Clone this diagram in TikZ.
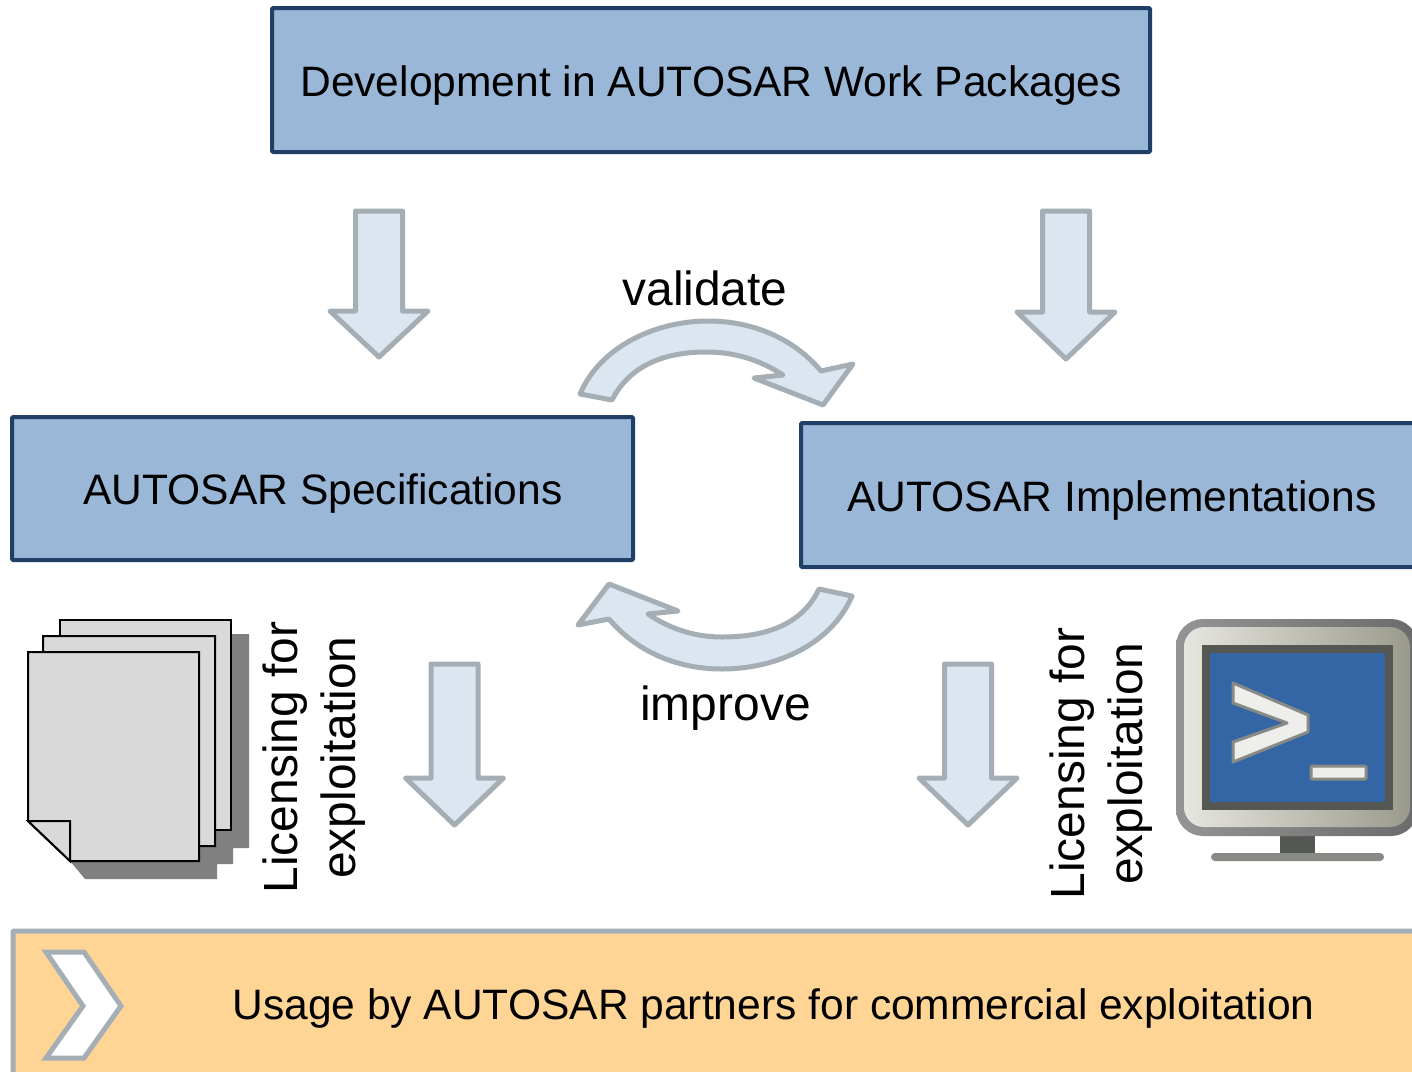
\documentclass[tikz,border=0pt]{standalone}
\usepackage{fontspec}
\setmainfont{Liberation Sans}
\definecolor{boxfill}{HTML}{9BB7D7}
\definecolor{boxline}{HTML}{1F3F66}
\definecolor{arrowfill}{HTML}{DCE6F1}
\definecolor{arrowline}{HTML}{A5AEB5}
\definecolor{barfill}{HTML}{FFD595}
\definecolor{screenblue}{HTML}{3465A4}
\definecolor{screendark}{HTML}{555753}
\definecolor{promptline}{HTML}{888A85}
\definecolor{promptfill}{HTML}{EEEEEC}
\definecolor{bezellight}{HTML}{E6E6E0}
\definecolor{bezeldark}{HTML}{9A9A8C}
\tikzset{
  bluebox/.style={draw=boxline,fill=boxfill,line width=4pt,rounded corners=1pt,line join=round},
  blockarrow/.style={draw=arrowline,fill=arrowfill,line width=5pt,line join=round},
  boxtext/.style={inner sep=0pt,text=black,font=\fontsize{42.55}{50}\selectfont},
  bigtext/.style={inner sep=0pt,text=black,font=\fontsize{47.9}{60}\selectfont},
  sheet/.style={draw=black,fill=black!15,line width=2pt,line join=miter},
}
\newcommand{\downarrowshape}[4]{% centre x, top, shoulder, tip
  \draw[blockarrow] (#1-23.5,#2) -- (#1+23.5,#2) -- (#1+23.5,#3) -- (#1+49,#3) -- (#1,#4) -- (#1-49,#3) -- (#1-23.5,#3) -- cycle;}
\begin{document}
\begin{tikzpicture}[x=1pt,y=-1pt]
\useasboundingbox (0,0) rectangle (1412,1071);
\clip (0,0) rectangle (1412,1071);
\fill[white] (0,0) rectangle (1412,1071);

% blue boxes
\draw[bluebox] (272,8) rectangle (1150,152);
\node[boxtext] (work) at (711,85) {Development in AUTOSAR Work Packages};
\draw[bluebox] (12,417) rectangle (633,560);
\node[boxtext] (spec) at (323,493) {AUTOSAR Specifications};
\draw[bluebox] (801,423) rectangle (1425,567);
\node[boxtext] (impl) at (1112,500) {AUTOSAR Implementations};

% straight block arrows
\downarrowshape{379}{211}{311}{357}
\downarrowshape{1066}{211}{312}{359}
\downarrowshape{454.5}{664}{778}{825}
\downarrowshape{968}{664}{778}{825}

% curved arrows
\draw[blockarrow] (580,394) .. controls (600,347) and (655,321) .. (708,321)
  .. controls (755,321) and (795,340) .. (821,371) -- (853,364) -- (823,405) -- (754,378) -- (783,375)
  .. controls (760,360) and (735,352) .. (706,352)
  .. controls (665,352) and (630,365) .. (612,400) -- cycle;
\draw[blockarrow] (852,596) .. controls (832,643) and (778,669) .. (722,669)
  .. controls (675,669) and (635,650) .. (609,619) -- (578,625) -- (609,584) -- (678,611) -- (648,614)
  .. controls (670,629) and (695,637) .. (722,637)
  .. controls (765,637) and (802,625) .. (819,589) -- cycle;
\node[bigtext] (validate) at (705,288) {validate};
\node[bigtext] (improve) at (725.5,708) {improve};

% documents
\fill[black!50] (70,861) -- (85,879) -- (217,879) -- (217,864) -- (233,864) -- (233,848) -- (249,848) -- (249,634) -- (231,634) -- (231,800) -- cycle;
\draw[sheet] (60,620) rectangle (231,830);
\draw[sheet] (43,636) -- (215,636) -- (215,846) -- (70,846) -- (43,821) -- cycle;
\draw[sheet] (28,652) -- (199,652) -- (199,861) -- (70,861) -- (28,821) -- cycle;
\draw[sheet] (28,821) -- (70,821) -- (70,861) -- cycle;

% licensing labels
\node[bigtext,rotate=90,align=center] (licl) at (314.5,757.5) {Licensing for\\[-2pt]exploitation};
\node[bigtext,rotate=90,align=center] (licr) at (1101.5,763.5) {Licensing for\\[-2pt]exploitation};

% monitor
\fill[screendark] (1280,830) rectangle (1315,855);
\fill[promptline,rounded corners=4pt] (1211,853) rectangle (1384,861);
\shade[shading angle=-60,left color=black!42,right color=black!58,rounded corners=27pt] (1176,619) rectangle (1418,836);
\shade[shading angle=-65,left color=bezellight,right color=bezeldark,rounded corners=20pt] (1184,627) rectangle (1410,827);
\fill[screendark] (1202,645) rectangle (1393,810);
\fill[screenblue] (1210,653) rectangle (1385,802);
\draw[draw=promptline,fill=promptfill,line width=3pt,line join=round]
  (1233,683) -- (1308,715) -- (1308,732) -- (1233,762) -- (1233,742) -- (1287,723) -- (1233,703) -- cycle;
\draw[draw=promptline,fill=promptfill,line width=3pt,rounded corners=1pt] (1311,766) rectangle (1366,779);

% usage bar
\draw[draw=arrowline,fill=barfill,line width=5pt,rounded corners=1pt] (13,931) rectangle (1430,1090);
\draw[draw=arrowline,fill=white,line width=5pt,line join=miter]
  (46,952) -- (84,952) -- (121,1006) -- (84,1058) -- (46,1058) -- (83,1006) -- cycle;
\node[boxtext] (usage) at (773.5,1008) {Usage by AUTOSAR partners for commercial exploitation};
\end{tikzpicture}
\end{document}
